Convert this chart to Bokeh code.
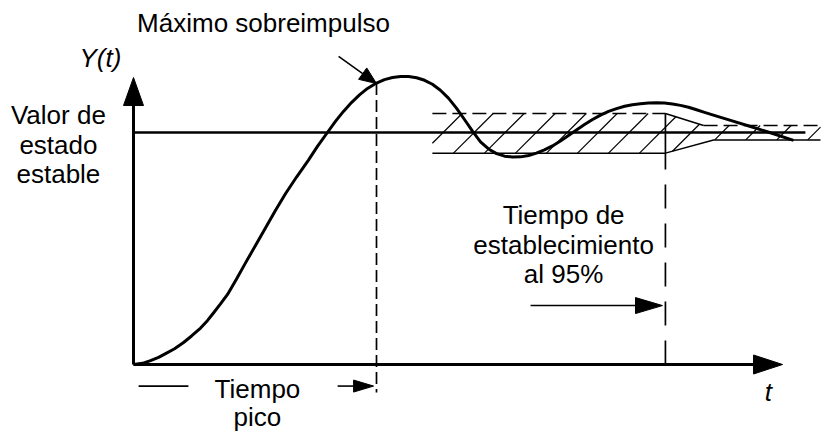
from bokeh.plotting import figure
from bokeh.models import Range1d
from bokeh.core.properties import value
from bokeh.embed import file_html
from bokeh.resources import INLINE

# ---------------- data (normalised: peak time = 1, steady-state value = 1) ----------------
t_resp = [0.000, 0.037, 0.070, 0.103, 0.132, 0.169, 0.206, 0.239, 0.276, 0.305,
          0.329, 0.358, 0.387, 0.424, 0.461, 0.502, 0.543, 0.584, 0.626, 0.671,
          0.720, 0.757, 0.798, 0.831, 0.864, 0.897, 0.930, 0.963, 1.000, 1.033,
          1.066, 1.099, 1.132, 1.165, 1.198, 1.230, 1.263, 1.296, 1.329, 1.362,
          1.395, 1.428, 1.461, 1.494, 1.527, 1.560, 1.593, 1.626, 1.658, 1.691,
          1.724, 1.757, 1.790, 1.823, 1.856, 1.889, 1.922, 1.955, 1.988, 2.021,
          2.053, 2.086, 2.119, 2.152, 2.185, 2.218, 2.251, 2.284, 2.317, 2.350,
          2.383, 2.457, 2.539, 2.621, 2.716]
y_resp = [0.000, 0.005, 0.017, 0.031, 0.047, 0.068, 0.095, 0.123, 0.157, 0.190,
          0.222, 0.261, 0.302, 0.369, 0.438, 0.513, 0.588, 0.664, 0.737, 0.808,
          0.881, 0.940, 1.000, 1.048, 1.091, 1.129, 1.162, 1.190, 1.213, 1.228,
          1.237, 1.241, 1.241, 1.236, 1.225, 1.208, 1.182, 1.148, 1.105, 1.056,
          1.006, 0.960, 0.929, 0.909, 0.898, 0.894, 0.895, 0.901, 0.911, 0.925,
          0.942, 0.963, 0.987, 1.011, 1.034, 1.056, 1.075, 1.091, 1.103, 1.113,
          1.120, 1.124, 1.127, 1.128, 1.127, 1.123, 1.117, 1.109, 1.098, 1.087,
          1.076, 1.052, 1.026, 0.999, 0.966]

y_ss = 1.0            # steady-state value
t_ss_end = 2.765      # end of steady-state line
t_peak = 1.0          # peak time marker
y_peak = 1.213        # where the peak marker meets the curve
t_settle = 2.189      # settling time (95 %)

band_t = [1.230, 2.189, 2.387, 2.827, 2.827, 2.346, 2.189, 1.230]   # tolerance band outline
band_y = [0.911, 0.911, 0.968, 0.968, 1.030, 1.030, 1.082, 1.082]
band_hi, band_lo = 1.082, 0.911

t_axis_tip = 2.671
y_axis_tip = 1.237

# arrows: start t, start y, tip t, tip y
arrow_start_t = [0.0, 0.0, 0.844, 0.840, 1.634]
arrow_start_y = [0.0, 0.0, 1.328, -0.093, 0.254]
arrow_tip_t = [0.0, t_axis_tip, 1.000, 0.988, 2.177]
arrow_tip_y = [y_axis_tip, 0.0, 1.211, -0.093, 0.254]
head_len = [28, 29, 17, 20, 27]
head_wid = [20, 19, 14, 12, 16]
shaft_w = [3, 3, 1.6, 1.6, 1.6]

# labels
lab_text = ["Máximo sobreimpulso", "Valor de", "estado", "estable",
            "Tiempo de", "establecimiento", "al 95%", "Tiempo", "pico"]
lab_t = [0.535, -0.309, -0.309, -0.309, 1.770, 1.770, 1.770, 0.510, 0.510]
lab_y = [1.474, 1.077, 0.948, 0.819, 0.646, 0.517, 0.388, -0.104, -0.226]
ital_text = ["Y(t)", "t"]
ital_t = [-0.136, 2.613]
ital_y = [1.319, -0.120]

# ---------------- layout ----------------
W, H = 822, 433
KX, KY = 243.0, 232.0          # px per unit
OX, OY = 133.0, 364.0          # origin offset inside the frame (from left / top)

p = figure(width=W, height=H, output_backend="svg", toolbar_location=None,
           x_range=Range1d(-OX / KX, (W - OX) / KX),
           y_range=Range1d(-(H - OY) / KY, OY / KY),
           x_axis_location=None, y_axis_location=None, min_border=0,
           outline_line_color=None, background_fill_color="white",
           border_fill_color="white")
p.grid.visible = False

# ---- hatch inside tolerance band (45 degree lines, clipped to polygon) ----
poly = [(KX * a, KY * b) for a, b in zip(band_t, band_y)]
spacing = 31.0
hx, hy = [], []
bb = KY * band_lo - 320.0
while bb > -520:
    bb -= spacing
bb += spacing
while bb < 0:
    xs = []
    n = len(poly)
    for i in range(n):
        (x1, y1), (x2, y2) = poly[i], poly[(i + 1) % n]
        dx, dy = x2 - x1, y2 - y1
        den = dy - dx
        if abs(den) < 1e-9:
            continue
        u = (bb - (y1 - x1)) / den
        if 0 <= u < 1:
            xs.append(x1 + u * dx)
    xs.sort()
    for j in range(0, len(xs) - 1, 2):
        xa, xb = xs[j], xs[j + 1]
        hx.append([xa / KX, xb / KX])
        hy.append([(xa + bb) / KY, (xb + bb) / KY])
    bb += spacing
p.multi_line(hx, hy, line_color="black", line_width=1.2)

# band outline
p.line([band_t[7], band_t[6]], [band_y[7], band_y[6]], line_color="black", line_width=1.5, line_dash="14 6")
p.line([band_t[6], band_t[5]], [band_y[6], band_y[5]], line_color="black", line_width=1.5)
p.line([band_t[5], band_t[4]], [band_y[5], band_y[4]], line_color="black", line_width=1.5, line_dash="14 6")
p.line(band_t[0:4], band_y[0:4], line_color="black", line_width=1.5)

# steady state line
p.line([0, t_ss_end], [y_ss, y_ss], line_color="black", line_width=2.5)

# peak-time marker
p.line([t_peak, t_peak], [y_peak, -0.121], line_color="black", line_width=1.7, line_dash="12 5")
# settling-time marker
p.line([t_settle, t_settle], [band_hi, band_lo], line_color="black", line_width=1.7)
p.line([t_settle, t_settle], [0, band_lo], line_color="black", line_width=1.7, line_dash="24 15")

# "Tiempo pico" left bar
p.line([0.021, 0.226], [-0.093, -0.093], line_color="black", line_width=1.6)

# arrows
head_xs, head_ys = [], []
for st, sy, tt, ty, L, Wd, lw in zip(arrow_start_t, arrow_start_y, arrow_tip_t,
                                     arrow_tip_y, head_len, head_wid, shaft_w):
    sx0, sy0 = st * KX, sy * KY
    tx0, ty0 = tt * KX, ty * KY
    vx, vy = tx0 - sx0, ty0 - sy0
    d = (vx * vx + vy * vy) ** 0.5
    ux, uy = vx / d, vy / d
    nx, ny = -uy, ux
    bx, by = tx0 - L * ux, ty0 - L * uy
    p.line([st, bx / KX], [sy, by / KY], line_color="black", line_width=lw)
    head_xs.append([tx0 / KX, (bx + nx * Wd / 2) / KX, (bx - nx * Wd / 2) / KX])
    head_ys.append([ty0 / KY, (by + ny * Wd / 2) / KY, (by - ny * Wd / 2) / KY])
p.patches(head_xs, head_ys, fill_color="black", line_color="black", line_width=1)

# response curve
p.line(t_resp, y_resp, line_color="black", line_width=3, line_join="round")

# texts
p.text(lab_t, lab_y, text=lab_text, text_font=value("Liberation Sans"),
       text_font_size=value("26px"), text_align="center", text_baseline="alphabetic",
       text_color="black")
p.text(ital_t, ital_y, text=ital_text, text_font=value("Liberation Sans"),
       text_font_size=value("26px"), text_font_style="italic", text_align="center",
       text_baseline="alphabetic", text_color="black")

open("out.html", "w").write(file_html(p, INLINE))
